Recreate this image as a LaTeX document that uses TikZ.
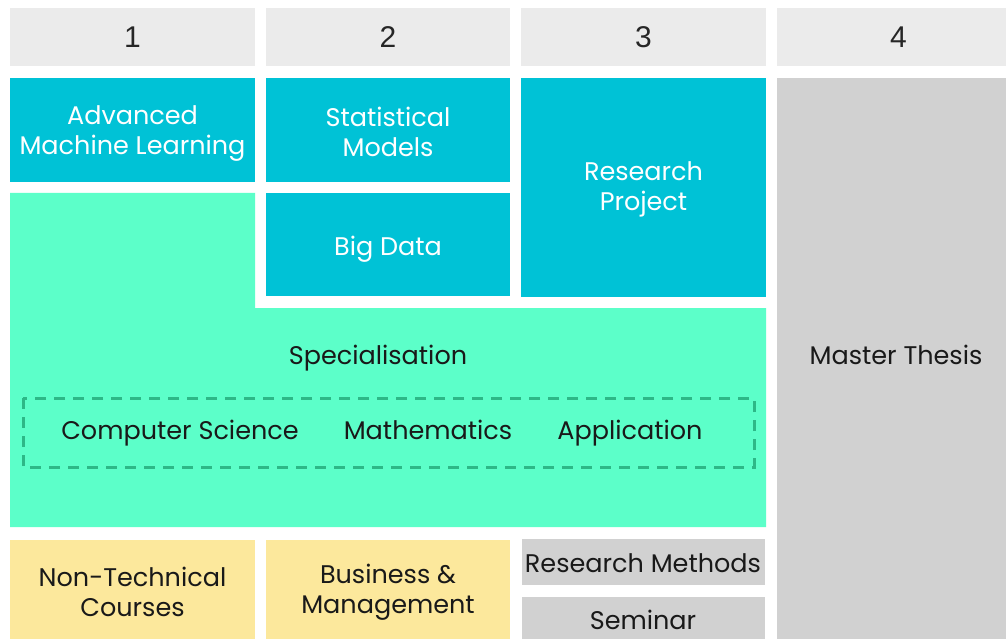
\documentclass[tikz,border=0pt]{standalone}
\usepackage{fontspec}
\setmainfont{Poppins}
\newfontfamily\digitfont{Liberation Sans}
\definecolor{teal}{HTML}{00C2D6}
\definecolor{mint}{HTML}{5CFFC9}
\definecolor{sand}{HTML}{FCE89C}
\definecolor{hdr}{HTML}{EBEBEB}
\definecolor{stone}{HTML}{D1D1D1}
\definecolor{dashgreen}{HTML}{2DB887}
\begin{document}
\begin{tikzpicture}[x=1pt,y=-1pt,
  cell/.style={anchor=north west,inner sep=0pt,outer sep=0pt},
  head/.style={cell,fill=hdr,font=\digitfont\fontsize{30}{30}\selectfont,text=black!85},
  course/.style={cell,fill=teal},
  soft/.style={cell,fill=sand},
  plain/.style={cell,fill=stone},
  label/.style={inner sep=0pt,text height=0.72em,text depth=0.22em,font=\fontsize{25.5}{30}\selectfont,text=black!90},
  twoline/.style={inner sep=0pt,align=center,font=\fontsize{25.5}{30}\selectfont,text=black!90},
  wlabel/.style={label,text=white},
  wtwoline/.style={twoline,text=white}]
\useasboundingbox (0,0) rectangle (1006,639);
\fill[white] (0,0) rectangle (1006,639);
\begin{scope}
\clip (0,0) rectangle (1006,639);
% semester headers
\node[head,minimum width=245,minimum height=58] (h1) at (10,8) {1};
\node[head,minimum width=244,minimum height=58] (h2) at (266,8) {2};
\node[head,minimum width=245,minimum height=58] (h3) at (521,8) {3};
\node[head,minimum width=243,minimum height=58] (h4) at (777,8) {4};
% core courses
\node[course,minimum width=245,minimum height=104] (aml) at (10,78) {};
\node[wtwoline] (amltext) at (132.5,134) {Advanced\\Machine Learning};
\node[course,minimum width=244,minimum height=104] (stat) at (266,78) {};
\node[wtwoline] (stattext) at (388,132) {Statistical\\Models};
\node[course,minimum width=244,minimum height=103] (bigdata) at (266,193) {};
\node[wlabel] (bigdatatext) at (388,253) {Big Data};
\node[course,minimum width=245,minimum height=219] (project) at (521,78) {};
\node[wtwoline] (projecttext) at (643.5,189) {Research\\Project};
% specialisation block
\fill[mint] (10,193) -- (255,193) -- (255,308) -- (766,308) -- (766,527) -- (10,527) -- cycle;
\node[label] (spec) at (378,362) {Specialisation};
\draw[dashgreen,line width=3pt,dash pattern=on 11pt off 8pt] (23,398) rectangle (754,467);
\node[label] (cs) at (180,437) {Computer Science};
\node[label] (math) at (428,437) {Mathematics};
\node[label] (app) at (630,437) {Application};
% thesis
\node[plain,minimum width=243,minimum height=561] (thesis) at (777,78) {};
\node[label] (thesistext) at (896,362) {Master Thesis};
% other courses
\node[soft,minimum width=245,minimum height=99] (nontech) at (10,540) {};
\node[twoline] (nontechtext) at (132.5,591.5) {Non-Technical\\Courses};
\node[soft,minimum width=244,minimum height=99] (business) at (266,540) {};
\node[twoline] (businesstext) at (388,592.5) {Business \&\\Management};
\node[plain,minimum width=243,minimum height=46] (methods) at (522,539) {};
\node[label] (methodstext) at (643,570) {Research Methods};
\node[plain,minimum width=243,minimum height=45] (seminar) at (522,597) {};
\node[label] (semtext) at (643,627) {Seminar};
\end{scope}
\end{tikzpicture}
\end{document}
